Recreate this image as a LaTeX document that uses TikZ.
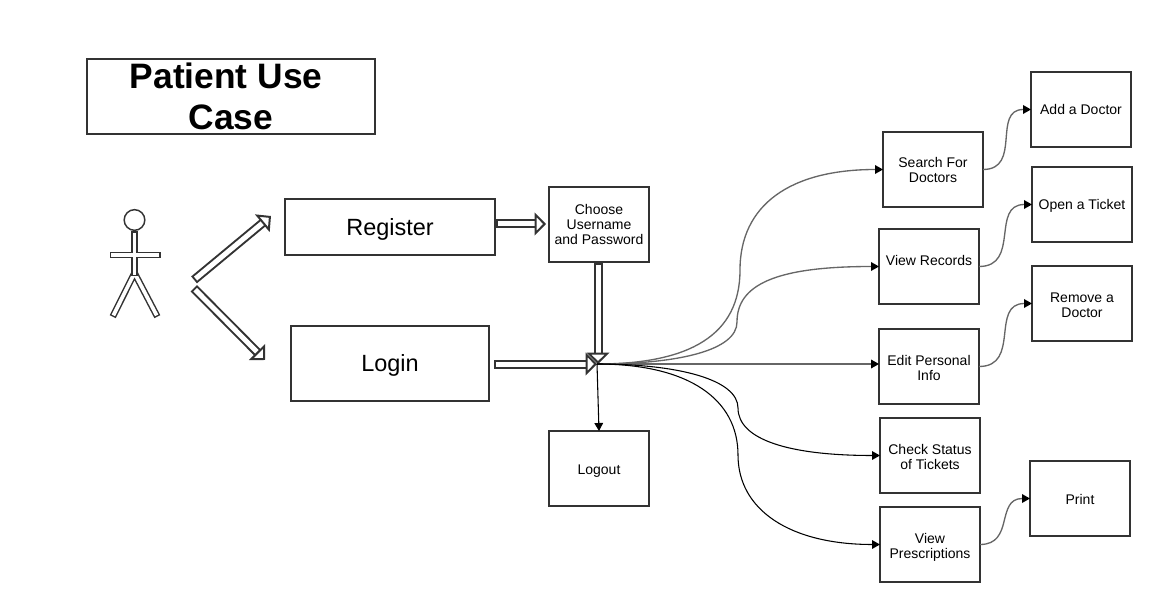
\documentclass[tikz,border=0pt]{standalone}
\usepackage{fontspec}
\setmainfont{Liberation Sans}
\usetikzlibrary{arrows.meta}
\definecolor{boxline}{HTML}{333333}
\definecolor{curvegray}{HTML}{666666}
\begin{document}
\begin{tikzpicture}[x=.75pt,y=-.75pt,box/.style={shape=rectangle,draw=boxline,line width=1.5pt,outer sep=0pt,inner sep=0pt,align=center,text depth=0pt,font=\fontsize{10.5}{11.25}\selectfont},step box/.style={box,minimum width=75pt,minimum height=56.25pt,text height=#1},step box/.default=8.25pt,twolines/.style={step box=20.25pt},big box/.style={box,text height=12.5pt,font=\fontsize{17.6}{21}\selectfont},fat/.style={draw=boxline,line width=1.5pt,line cap=rect,double=white,double distance=3.75pt},fatarrow/.style={fat,-{Triangle[open,fill=white,length=8.5pt,width=17pt]}},stick/.style={fat,line width=1.1pt,double distance=2.8pt},thin/.style={draw=black,line width=.8pt,-{Triangle[black,length=6pt,width=6.5pt]}},thing/.style={thin,draw=curvegray,line width=1pt}]
\useasboundingbox (0,0) rectangle (1152,602);

\node[box,minimum width=216pt,minimum height=56.25pt,text height=49pt,font=\fontsize{26.5}{30.75}\selectfont\bfseries] (title) at (231,96.5) {Patient Use\hspace*{7.3pt}\\Case};

% actor
\node[circle,draw=boxline,line width=1.1pt,minimum size=15.5pt,inner sep=0pt,outer sep=0pt] (head) at (134.5,220) {};
\coordinate (neck) at (134.5,234.5);
\coordinate (hip) at (134.5,273);
\coordinate (lhand) at (113,255);
\coordinate (rhand) at (157.5,255);
\coordinate (lfoot) at (114.2,313.7);
\coordinate (rfoot) at (155.8,313.7);
\draw[stick] (lfoot) -- (hip) -- (rfoot);
\draw[stick] (lhand) -- (rhand) (neck) -- (hip);

% first row
\node[big box,minimum width=157.5pt,minimum height=42pt] (register) at (390,227) {Register};
\node[big box,minimum width=148.5pt,minimum height=56.25pt] (login) at (390,363.5) {Login};
\node[step box=30.75pt] (choose) at (599,224.5) {Choose\\Username\\and Password};
\node[step box] (logout) at (599,468.5) {Logout};

\coordinate (actorup) at (197.5,277);
\coordinate (upend) at (271,216);
\coordinate (actordown) at (197,291.5);
\coordinate (downend) at (265,360);
\coordinate (regtail) at (500.5,224);
\coordinate (regend) at (546,224);
\coordinate (choosetail) at (598,267);
\coordinate (logintail) at (498.5,364);
\coordinate (hub) at (597,364);
\draw[fatarrow] (actorup) -- (upend);
\draw[fatarrow] (actordown) -- (downend);
\draw[fatarrow] (regtail) -- (regend);
\draw[fatarrow] (choosetail) -- (choosetail |- hub);
\draw[fatarrow] (logintail) -- (hub);

% second row
\node[twolines] (search) at (933,169.5) {Search For\\Doctors};
\node[step box,text height=0pt,text depth=2.25pt] (records) at (929,266.5) {View Records};
\node[twolines] (edit) at (929,366.5) {Edit Personal\\Info};
\node[twolines] (status) at (930,455.5) {Check Status\\of Tickets};
\node[twolines] (presc) at (930,544.5) {View\\Prescriptions};

\draw[thing] (hub) .. controls (690,364) and (740,335) .. (740,270) .. controls (740,205) and (790,169.5) .. (search.west);
\draw[thing] (hub) .. controls (680,364) and (737,350) .. (737,322) .. controls (737,285) and (775,266.5) .. (records.west);
\draw[thing] (hub) -- (hub -| edit.west);
\draw[thin] (hub) .. controls (680,364) and (738,380) .. (738,408) .. controls (738,440) and (790,455.5) .. (status.west);
\draw[thin] (hub) .. controls (690,364) and (738,400) .. (738,455) .. controls (738,510) and (790,544.5) .. (presc.west);
\draw[thin] (hub) -- (logout.north);

% third row
\node[step box] (adddoc) at (1081,109.5) {Add a Doctor};
\node[step box] (ticket) at (1082,204.5) {Open a Ticket};
\node[twolines] (removedoc) at (1082,303.5) {Remove a\\Doctor};
\node[step box] (printit) at (1080,498.5) {Print};

\draw[thing] (search.east) to[out=0,in=180,looseness=1.3] (adddoc.west);
\draw[thing] (records.east) to[out=0,in=180,looseness=1.3] (ticket.west);
\draw[thing] (edit.east) to[out=0,in=180,looseness=1.3] (removedoc.west);
\draw[thing] (presc.east) to[out=0,in=180,looseness=1.3] (printit.west);
\end{tikzpicture}
\end{document}
